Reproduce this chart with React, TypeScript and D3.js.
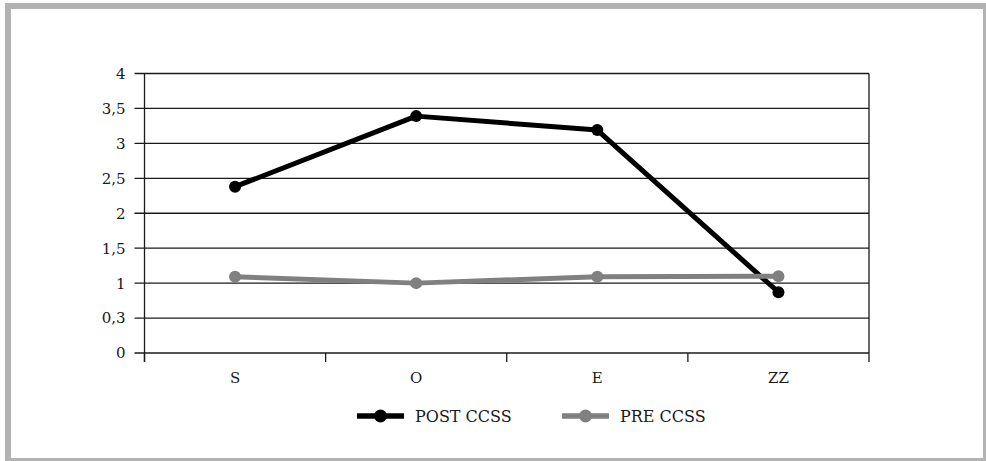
import React from "react";
import * as d3 from "d3";

const categories = ["S", "O", "E", "ZZ"];
const postValues = [2.38, 3.39, 3.19, 0.87];
const preValues = [1.09, 1.0, 1.09, 1.1];
const tickValues = [0, 0.5, 1, 1.5, 2, 2.5, 3, 3.5, 4];
const tickLabels = ["0", "0,3", "1", "1,5", "2", "2,5", "3", "3,5", "4"];
const seriesNames = ["POST CCSS", "PRE CCSS"];
const seriesColors = ["#000000", "#808080"];

export default function App() {
  const W = 986, H = 461;
  const left = 144.5, right = 869, top = 73.5, bottom = 353;
  const x = d3.scaleBand().domain(categories).range([left, right]);
  const y = d3.scaleLinear().domain([0, 4]).range([bottom, top]);
  const font = "'DejaVu Serif', serif";
  const line = d3.line<number>()
    .x((_, i) => (x(categories[i]) as number) + x.bandwidth() / 2)
    .y((d) => y(d));
  const series = [postValues, preValues];
  const boundaries = categories.map((c) => x(c) as number).concat([right]);
  const legendItems = [
    { lx: 357, tx: 415 },
    { lx: 562, tx: 620 },
  ];
  return (
    <svg width={W} height={H} style={{ position: "absolute", left: 0, top: 0 }}>
      <rect x={0} y={0} width={W} height={H} fill="#fff" />
      <rect x={8} y={6} width={978} height={455} fill="none" stroke="#b3b3b3" strokeWidth={6} />
      {tickValues.map((v, i) => (
        <g key={i}>
          <line x1={left - 10} x2={right} y1={y(v)} y2={y(v)} stroke="#1a1a1a" strokeWidth={1.3} />
          <text x={left - 19} y={y(v)} dy="0.36em" textAnchor="end" fontFamily={font} fontSize={15} fill="#1a1a1a">
            {tickLabels[i]}
          </text>
        </g>
      ))}
      <line x1={left} x2={left} y1={top} y2={bottom + 9} stroke="#1a1a1a" strokeWidth={1.3} />
      {boundaries.map((b, i) => (
        <line key={i} x1={b} x2={b} y1={i === boundaries.length - 1 ? top : bottom} y2={bottom + 9} stroke="#1a1a1a" strokeWidth={1.3} />
      ))}
      {categories.map((c) => (
        <text key={c} x={(x(c) as number) + x.bandwidth() / 2} y={377.5} dy="0.36em" textAnchor="middle" fontFamily={font} fontSize={15} fill="#1a1a1a">
          {c}
        </text>
      ))}
      {series.map((s, si) => (
        <g key={si}>
          <path d={line(s) || ""} fill="none" stroke={seriesColors[si]} strokeWidth={5} strokeLinejoin="round" />
          {s.map((v, i) => (
            <circle key={i} cx={(x(categories[i]) as number) + x.bandwidth() / 2} cy={y(v)} r={6} fill={seriesColors[si]} />
          ))}
        </g>
      ))}
      {legendItems.map((l, i) => (
        <g key={i}>
          <line x1={l.lx} x2={l.lx + 47} y1={416} y2={416} stroke={seriesColors[i]} strokeWidth={5.5} />
          <circle cx={l.lx + 23.5} cy={416} r={6.5} fill={seriesColors[i]} />
          <text x={l.tx} y={416} dy="0.36em" fontFamily={font} fontSize={16} fill="#1a1a1a">
            {seriesNames[i]}
          </text>
        </g>
      ))}
    </svg>
  );
}
